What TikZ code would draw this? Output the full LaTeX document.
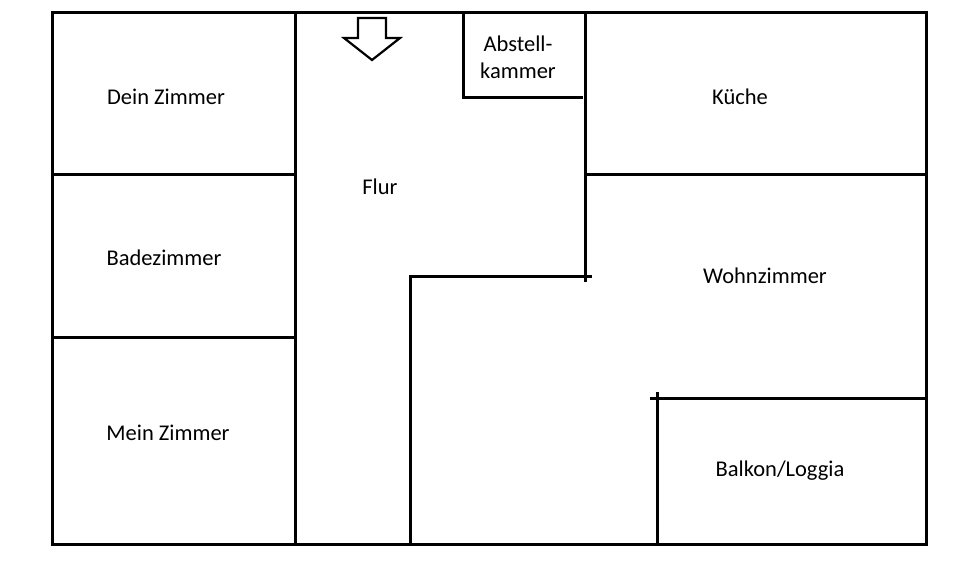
\documentclass[tikz,border=0pt]{standalone}
\usepackage{fontspec}
\setmainfont{Carlito}
\begin{document}
\begin{tikzpicture}[x=1pt,y=-1pt,wall/.style={line width=3pt},lbl/.style={font=\fontsize{22.5}{27}\selectfont,align=center}]
\useasboundingbox (0,0) rectangle (960,564);
\draw[wall] (52,13) rectangle (926,544);
\draw[wall] (295,13) -- (295,544);
\draw[wall] (52,175) -- (295,175);
\draw[wall] (52,337) -- (295,337);
\draw[wall] (410,544) -- (410,276) -- (592,276);
\draw[wall] (585,13) -- (585,282);
\draw[wall] (585,175) -- (926,175);
\draw[wall] (463,13) -- (463,98) -- (583,98);
\draw[wall] (657,544) -- (657,392);
\draw[wall] (650,398) -- (926,398);
\draw[line width=2.2pt,line join=miter] (358,18) -- (386,18) -- (386,38) -- (400,38) -- (372,60) -- (344,38) -- (358,38) -- cycle;
\node[lbl] (dz) at (166,97) {Dein Zimmer};
\node[lbl] (bz) at (164,258) {Badezimmer};
\node[lbl] (mz) at (168,433) {Mein Zimmer};
\node[lbl] (fl) at (380,187) {Flur};
\node[lbl] (ak) at (518,57) {Abstell-\\kammer};
\node[lbl] (ku) at (740,97) {Küche};
\node[lbl] (wz) at (765,276) {Wohnzimmer};
\node[lbl] (bl) at (780,471) {Balkon/Loggia};
\end{tikzpicture}
\end{document}
